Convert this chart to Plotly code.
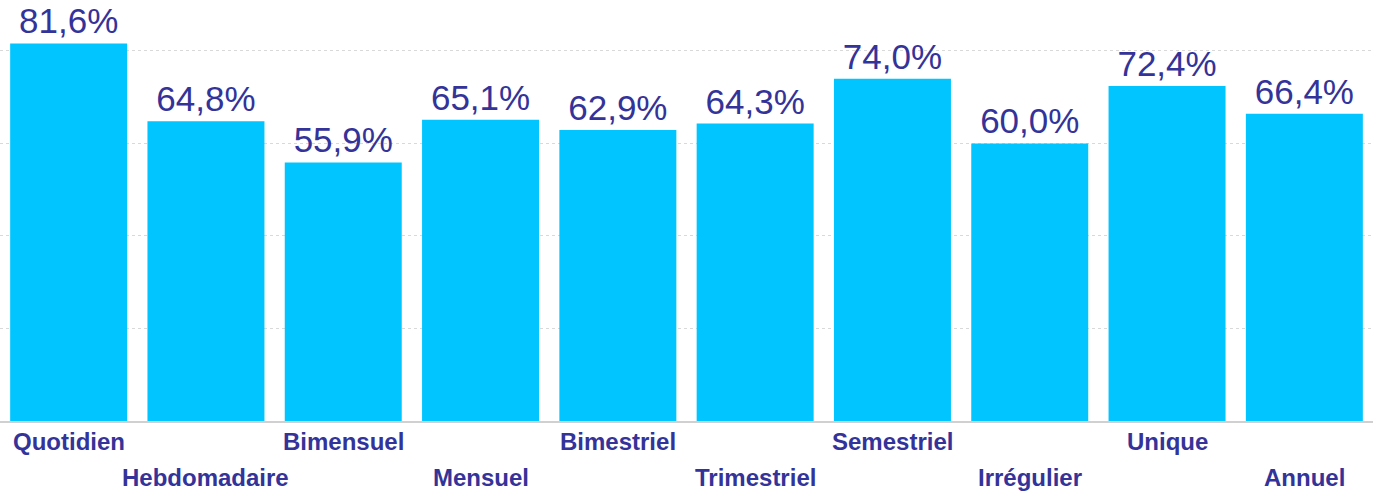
import plotly.graph_objects as go

categories = ["Quotidien", "Hebdomadaire", "Bimensuel", "Mensuel", "Bimestriel",
              "Trimestriel", "Semestriel", "Irrégulier", "Unique", "Annuel"]
values = [81.6, 64.8, 55.9, 65.1, 62.9, 64.3, 74.0, 60.0, 72.4, 66.4]

BAR = "#00C5FF"
TXT = "#333399"
FONT = "Arial, Liberation Sans, sans-serif"

fig = go.Figure(go.Bar(
    x=categories, y=values,
    marker=dict(color=BAR, line=dict(width=0)),
    texttemplate="%{y:.1f}%", textposition="outside",
    textfont=dict(family=FONT, size=35, color=TXT),
    cliponaxis=False, hoverinfo="skip",
))

for i, c in enumerate(categories):
    fig.add_annotation(x=c, y=0, xref="x", yref="paper", yanchor="top",
                       yshift=-5 if i % 2 == 0 else -41, showarrow=False,
                       text="<b>%s</b>" % c,
                       font=dict(family=FONT, size=24, color=TXT))

fig.update_layout(
    width=1373, height=493,
    margin=dict(l=0, r=0, t=0, b=72),
    paper_bgcolor="white", plot_bgcolor="white",
    separators=", ",
    bargap=0.148, showlegend=False,
    xaxis=dict(showticklabels=False, showline=True, linecolor="#d0d0d0",
               linewidth=2, ticks="", showgrid=False),
    yaxis=dict(range=[0, 91], dtick=20, showticklabels=False, showgrid=True,
               gridcolor="#d9d9d9", griddash="dot", gridwidth=1,
               zeroline=False, showline=False),
)

fig.write_html("out.html", config={"displayModeBar": False},
               post_script="document.body.style.margin='0';document.body.style.overflow='hidden';")
